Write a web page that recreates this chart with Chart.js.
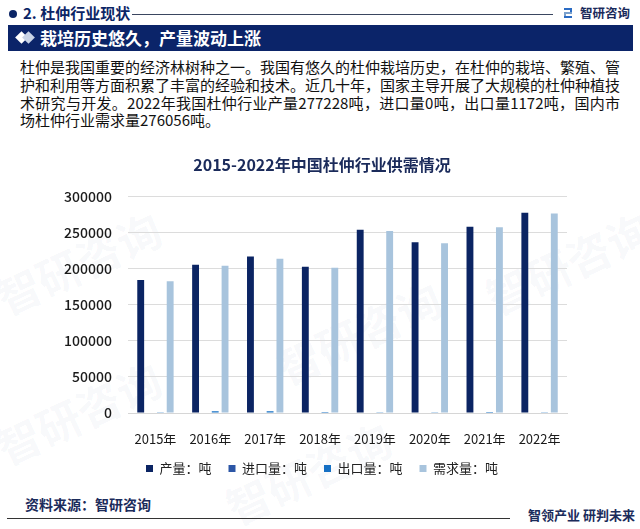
<!DOCTYPE html>
<html>
<head>
<meta charset="utf-8">
<script src="https://cdn.jsdelivr.net/npm/chart.js@4.4.0/dist/chart.umd.min.js"></script>
<style>
  html, body { margin:0; padding:0; background:#fff; }
  body { width:640px; height:529px; position:relative; overflow:hidden; font-family:"Noto Sans CJK SC","Noto Sans",sans-serif; }
  .abs { position:absolute; }
  #dot { left:9px; top:10px; width:8px; height:8px; border-radius:50%; background:#0b2566; }
  #sec { left:23px; top:3px; font-size:15px; font-weight:bold; color:#0b2566; line-height:20px; white-space:nowrap; }
  #topline { left:132px; top:14px; width:421px; height:1px; background:#3a4660; }
  #logo { left:580px; top:4px; font-size:12.5px; font-weight:bold; color:#1b2b5b; line-height:18px; white-space:nowrap; }
  #logoicon { left:564px; top:8px; width:8px; height:10px; }
  #banner { left:8px; top:25px; width:625px; height:26px; background:#0b2469; }
  #btext { left:40px; top:25px; font-size:17px; font-weight:bold; color:#fff; line-height:26px; white-space:nowrap; }
  .dia { width:9px; height:9px; transform:rotate(45deg); }
  #para { left:20px; top:58px; width:600px; font-size:15px; color:#111; line-height:17.8px; }
  #para div { text-align:justify; text-align-last:justify; white-space:nowrap; }
  #para div.last { text-align-last:left; }
  #chartbox { left:0; top:145px; width:640px; height:340px; }
  #src { left:25px; top:494px; font-size:14px; font-weight:bold; color:#1b2b5b; line-height:20px; white-space:nowrap; }
  #botline { left:7px; top:518px; width:503px; height:1px; background:#333; }
  #slogan { left:528px; top:506px; font-size:13px; font-weight:bold; color:#1b2b5b; line-height:18px; white-space:nowrap; }
  .wm { position:absolute; color:rgba(60,90,140,0.045); font-weight:bold; white-space:nowrap; transform:rotate(-25deg); pointer-events:none; }
</style>
</head>
<body>
<div class="wm" style="left:-10px;top:230px;font-size:44px;">智研咨询</div>
<div class="wm" style="left:270px;top:300px;font-size:44px;">智研咨询</div>
<div class="wm" style="left:480px;top:230px;font-size:44px;">智研咨询</div>
<div class="wm" style="left:-10px;top:380px;font-size:44px;">智研咨询</div>
<div class="wm" style="left:220px;top:440px;font-size:44px;">智研咨询</div>

<div id="dot" class="abs"></div>
<div id="sec" class="abs">2. 杜仲行业现状</div>
<div id="topline" class="abs"></div>
<svg id="logoicon" class="abs" viewBox="0 0 8 10"><rect x="0" y="0" width="8" height="2" fill="#2b6cc4"/><rect x="6" y="0" width="2" height="5" fill="#2b6cc4"/><rect x="0" y="4" width="8" height="2" fill="#7aa0cc"/><rect x="0" y="4" width="2" height="6" fill="#7aa0cc"/><rect x="0" y="8" width="8" height="2" fill="#2b6cc4"/></svg>
<div id="logo" class="abs">智研咨询</div>

<div id="banner" class="abs"></div>
<div class="abs dia" style="left:17px;top:33px;background:#ffffff;"></div>
<div class="abs dia" style="left:24px;top:33px;background:#c9d3e6;"></div>
<div id="btext" class="abs">栽培历史悠久，产量波动上涨</div>

<div id="para" class="abs">
  <div>杜仲是我国重要的经济林树种之一。我国有悠久的杜仲栽培历史，在杜仲的栽培、繁殖、管</div>
  <div>护和利用等方面积累了丰富的经验和技术。近几十年，国家主导开展了大规模的杜仲种植技</div>
  <div>术研究与开发。2022年我国杜仲行业产量277228吨，进口量0吨，出口量1172吨，国内市</div>
  <div class="last">场杜仲行业需求量276056吨。</div>
</div>

<div id="chartbox" class="abs"><canvas id="c"></canvas></div>

<div id="src" class="abs">资料来源：智研咨询</div>
<div id="botline" class="abs"></div>
<div id="slogan" class="abs">智领产业 研判未来</div>

<script>
const years = ["2015年","2016年","2017年","2018年","2019年","2020年","2021年","2022年"];
const production = [184000, 205000, 216500, 202300, 253500, 236300, 257600, 277228];
const imports = [0, 0, 0, 0, 0, 0, 0, 0];
const exports = [1200, 2400, 2500, 1300, 1200, 1100, 1400, 1172];
const demand = [182300, 203700, 213400, 200900, 251700, 234900, 257200, 276056];
const seriesNames = ["产量：吨","进口量：吨","出口量：吨","需求量：吨"];
const seriesColors = ["#0b2463","#2c56a6","#1670c4","#a8c4dd"];
const yTicks = [0, 50000, 100000, 150000, 200000, 250000, 300000];
const chartTitle = "2015-2022年中国杜仲行业供需情况";

const values = [production, imports, exports, demand];
const font = "'Noto Sans CJK SC','Noto Sans',sans-serif";

new Chart(document.getElementById('c'), {
  type: 'bar',
  data: {
    labels: years,
    datasets: values.map((v, i) => ({
      label: seriesNames[i],
      data: v,
      yAxisID: 'y',
      backgroundColor: seriesColors[i],
      borderWidth: 0,
      categoryPercentage: 0.716,
      barPercentage: 0.7
    }))
  },
  options: {
    responsive: true,
    maintainAspectRatio: false,
    animation: false,
    layout: { padding: { left: 4, right: 0, top: 0, bottom: 0 } },
    plugins: {
      tooltip: { enabled: false },
      title: {
        display: true,
        text: chartTitle,
        color: '#1b2b5b',
        font: { family: font, size: 16, weight: '600' },
        padding: { top: 10, bottom: 22 }
      },
      legend: {
        position: 'bottom',
        labels: {
          boxWidth: 7, boxHeight: 7,
          color: '#222',
          padding: 17,
          font: { family: font, size: 13 }
        }
      }
    },
    scales: {
      x: {
        grid: { display: false },
        border: { display: true, color: '#d6d6d6' },
        afterFit: s => { s.height = 32; },
        ticks: { color: '#1a1a1a', font: { family: font, size: 13 }, padding: 10 }
      },
      y: {
        position: 'left',
        min: 0, max: 300000,
        afterFit: s => { s.width = 124; },
        afterBuildTicks: s => { s.ticks = yTicks.map(v => ({ value: v })); },
        grid: { color: '#dcdcdc', drawTicks: false },
        border: { display: false },
        ticks: { color: '#1a1a1a', font: { family: font, size: 14, weight: '500' }, padding: 16, callback: v => String(v) }
      },
      yRight: {
        position: 'right',
        min: 0, max: 300000,
        afterFit: s => { s.width = 73; },
        grid: { display: false, drawOnChartArea: false },
        border: { display: false },
        ticks: { display: false }
      }
    }
  }
});
</script>
</body>
</html>
